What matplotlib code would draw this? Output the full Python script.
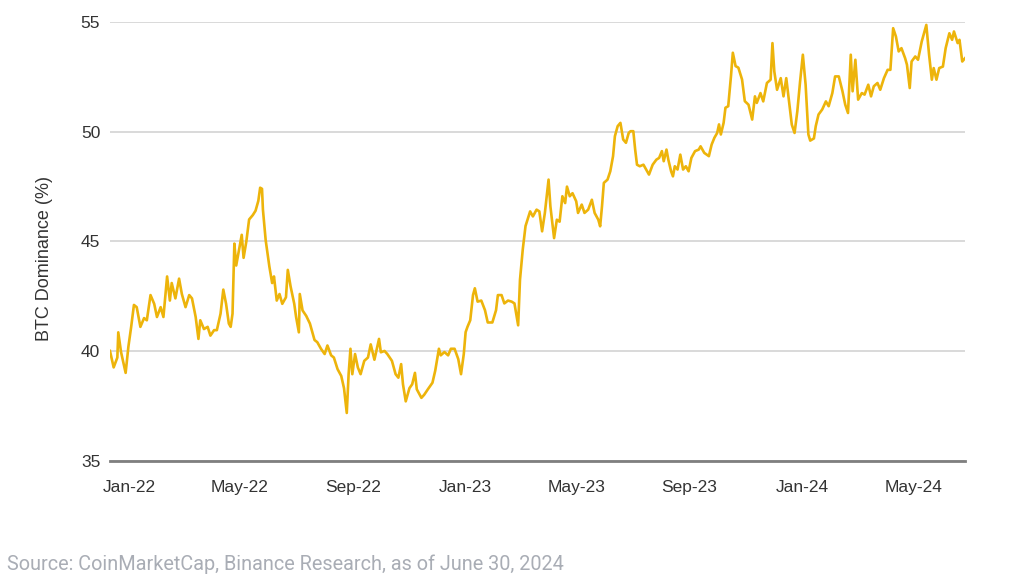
import matplotlib
matplotlib.use("Agg")
import matplotlib.pyplot as plt
import matplotlib.dates as mdates
import pandas as pd

# days since 2022-01-01
day_offset = [
    -21, -17, -13, -12, -9, -4, -1, 2, 5, 8, 12, 16, 19, 23, 27, 30, 34, 37, 41, 44,
    46, 50, 54, 57, 61, 65, 68, 72, 75, 77, 81, 85, 88, 92, 95, 99, 102, 105, 108, 110,
    112, 114, 116, 119, 122, 124, 127, 130, 134, 137, 140, 142, 144, 145, 148, 152, 155, 157, 160, 163,
    166, 170, 172, 175, 179, 181, 184, 185, 188, 192, 196, 201, 204, 208,
    212, 215, 219, 222, 226, 230, 233, 236, 238, 240, 242, 245, 248, 251, 255, 259, 262, 266, 271, 273,
    277, 280, 285, 289, 292, 295, 297, 300, 304, 307, 310, 312, 317, 320, 324, 329, 332, 336, 338, 342,
    346, 349, 353, 357, 360, 363, 365, 367, 370, 373, 375, 378, 382, 386, 389, 394, 398, 400, 404, 407,
    411, 415, 418, 422, 424, 427, 430, 435,
    438, 442, 445, 448, 451, 455, 457, 461, 464, 467, 470, 473, 475, 478, 481, 485, 487, 491, 494, 498,
    502, 505, 509, 511, 513, 515, 519, 522, 525, 527, 530, 533, 536, 539, 542, 544, 547, 549, 551, 554,
    558, 561, 564, 568, 572, 575, 578, 580, 583, 585, 588, 590, 592, 595, 598, 601, 604, 607, 610, 614,
    618, 620, 624, 629, 632, 635, 638, 640, 642, 645, 647, 650, 653, 655, 658, 661, 665,
    668, 672, 676, 679, 681, 685, 688, 692, 696, 698, 700, 703, 707, 710, 713, 716, 719, 722, 725, 728,
    731, 734, 737, 739, 743, 745, 748, 752, 756, 759, 763, 766, 770, 774, 777, 780, 783, 785, 788, 791,
    795, 798, 802, 805, 808, 812, 815, 819, 823, 826, 829, 832, 835, 838, 842, 844, 847, 849, 853, 856,
    860, 863, 865, 868, 871, 873, 876, 879, 883, 886, 890, 893, 895, 899, 901, 904, 907,
]

btc_dominance = [
    40.0, 39.25, 39.7, 40.85, 39.95, 39.0, 40.2, 41.1, 42.1, 42.0, 41.1, 41.5, 41.4, 42.55, 42.15, 41.55, 42.0, 41.55, 43.4, 42.3,
    43.1, 42.4, 43.3, 42.6, 42.0, 42.55, 42.4, 41.55, 40.55, 41.4, 41.0, 41.1, 40.7, 40.95, 40.95, 41.7, 42.8, 42.15, 41.25, 41.1,
    41.7, 44.9, 43.9, 44.6, 45.3, 44.25, 45.0, 46.0, 46.2, 46.4, 46.85, 47.45, 47.4, 46.45, 45.05, 43.85, 43.1, 43.4, 42.3, 42.6,
    42.15, 42.45, 43.7, 42.95, 42.15, 41.55, 40.85, 42.6, 41.85, 41.6, 41.25, 40.5, 40.4, 40.1,
    39.86, 40.25, 39.8, 39.7, 39.17, 38.86, 38.3, 37.17, 38.94, 40.1, 38.94, 39.86, 39.25, 38.94, 39.55, 39.7, 40.3, 39.6, 40.55, 39.94,
    40.0, 39.86, 39.55, 38.94, 38.78, 39.4, 38.48, 37.7, 38.3, 38.48, 39.0, 38.25, 37.86, 38.0, 38.25, 38.55, 39.1, 40.1, 39.8, 39.95,
    39.8, 40.1, 40.1, 39.63, 38.94, 39.86, 40.86, 41.1, 41.4, 42.55, 42.86, 42.25, 42.3, 41.86, 41.3, 41.3, 41.86, 42.55, 42.55, 42.17,
    42.3, 42.25, 42.17, 41.17, 43.25, 44.63, 45.7, 46.37,
    46.14, 46.45, 46.37, 45.46, 46.3, 47.82, 46.6, 45.15, 45.99, 45.9, 47.06, 46.75, 47.5, 47.06, 47.2, 46.83, 46.3, 46.68, 46.3, 46.45,
    46.9, 46.3, 45.99, 45.69, 46.6, 47.67, 47.82, 48.2, 48.89, 49.8, 50.26, 50.41, 49.65, 49.5, 49.95, 50.03, 50.03, 49.19, 48.5, 48.43,
    48.5, 48.28, 48.05, 48.5, 48.73, 48.81, 49.12, 48.66, 49.19, 48.73, 48.2, 47.97, 48.43, 48.28, 48.96, 48.28, 48.43, 48.2, 48.81, 49.12,
    49.19, 49.34, 49.04, 48.89, 49.42, 49.73, 49.95, 50.34, 49.88, 50.41, 51.1, 51.17, 52.55, 53.61, 53.0, 52.93, 52.39,
    51.4, 51.24, 50.56, 51.62, 51.32, 51.77, 51.39, 52.23, 52.38, 54.05, 52.76, 51.92, 52.45, 51.62, 52.45, 51.39, 50.33, 49.95, 50.94, 52.3,
    53.52, 52.15, 49.88, 49.6, 49.7, 50.26, 50.79, 51.02, 51.39, 51.17, 51.77, 52.53, 52.53, 51.85, 51.24, 50.86, 53.52, 51.85, 53.29, 51.47,
    51.77, 51.7, 52.15, 51.62, 52.08, 52.23, 51.92, 52.45, 52.83, 52.83, 54.73, 54.35, 53.67, 53.82, 53.36, 53.06, 52.0, 53.21, 53.44, 53.29,
    54.12, 54.58, 54.88, 53.52, 52.38, 52.91, 52.38, 52.91, 52.98, 53.82, 54.5, 54.2, 54.58, 54.05, 54.2, 53.21, 53.36,
]

y_ticks = [35, 40, 45, 50, 55]
source_note = "Source: CoinMarketCap, Binance Research, as of June 30, 2024"


def main() -> None:
    plt.rcParams["font.family"] = ["Liberation Sans", "DejaVu Sans"]

    dates = pd.Timestamp("2022-01-01") + pd.to_timedelta(day_offset, unit="D")

    fig = plt.figure(figsize=(10.24, 5.76), dpi=100)
    ax = fig.add_axes([0.1074, 0.2005, 0.835, 0.7608])

    ax.plot(dates, btc_dominance, color="#EDB40B", linewidth=1.9, zorder=3)

    ax.set_ylim(35, 55)
    ax.set_yticks(y_ticks)
    ax.set_xlim(dates[0], dates[-1])
    ax.xaxis.set_major_locator(mdates.MonthLocator(bymonth=[1, 5, 9]))
    ax.xaxis.set_major_formatter(mdates.DateFormatter("%b-%y"))

    ax.grid(axis="y", color="#d9d9d9", linewidth=1.4, zorder=0)
    for side in ["top", "right", "left"]:
        ax.spines[side].set_visible(False)
    ax.spines["bottom"].set_color("#7f7f7f")
    ax.spines["bottom"].set_linewidth(2.0)
    ax.spines["bottom"].set_zorder(4)

    ax.tick_params(axis="y", length=0, pad=7, labelsize=12.5, labelcolor="#333333")
    ax.tick_params(axis="x", length=0, pad=14, labelsize=12.5, labelcolor="#333333")
    ax.set_ylabel("BTC Dominance (%)", fontsize=13, color="#333333", labelpad=20, y=0.46)

    fig.text(0.007, 0.01, source_note, fontsize=14.3, color="#a9adb5",
             family=["Roboto", "DejaVu Sans"])

    fig.savefig("out.png", dpi=100)
    print("saved: out.png")


if __name__ == "__main__":
    main()
